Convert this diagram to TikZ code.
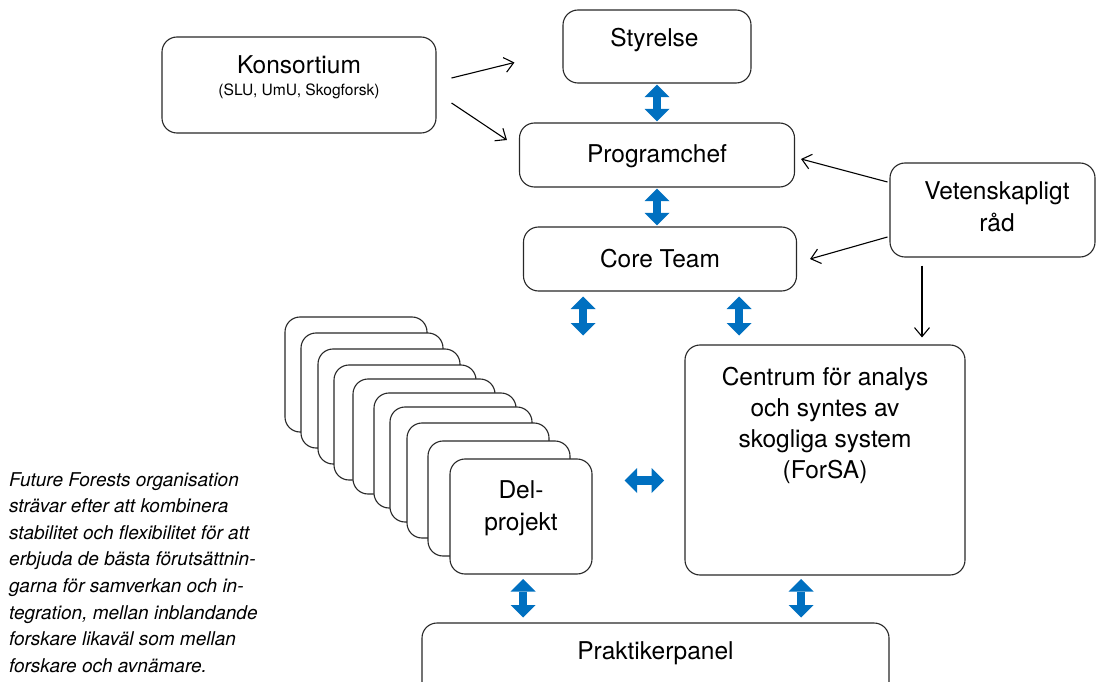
\documentclass[tikz,border=0pt]{standalone}
\usepackage{fontspec}
\setmainfont{TeX Gyre Heros}
\usetikzlibrary{arrows.meta}
\definecolor{arrblue}{RGB}{0,112,192}
\definecolor{boxline}{RGB}{40,40,40}
\newcommand\lblfont{\fontsize{24.5}{31}\selectfont}
\newcommand\smlfont{\fontsize{15.6}{18}\selectfont}
\newcommand\capfont{\fontsize{19}{26.6}\selectfont\itshape}
\begin{document}
\begin{tikzpicture}[x=1pt,y=-1pt,
  box/.style={draw=boxline, line width=1.1pt, rounded corners=15pt, fill=white, inner sep=0pt},
  lbl/.style={font=\lblfont, inner sep=0pt, anchor=base},
  sml/.style={font=\smlfont, inner sep=0pt, anchor=base},
  captxt/.style={font=\capfont, inner sep=0pt, anchor=base west},
  thinarrow/.style={draw=black, line width=1.1pt, -{Straight Barb[length=9pt,width=15pt]}},
  bluearrow/.style={draw=arrblue, line width=8.5pt,
    {Triangle[length=12.5pt 0 0,width=25pt 0 0,line width=0pt]}-{Triangle[length=12.5pt 0 0,width=25pt 0 0,line width=0pt]}}]
\useasboundingbox (0,0) rectangle (1096,682);
\clip (0,0) rectangle (1096,682);

% --- boxes ---
\node[box, minimum width=188pt, minimum height=73pt] (sty) at (657,46.5) {};
\node[lbl] (stytxt) at (654.5,47) {Styrelse};

\node[box, minimum width=274pt, minimum height=96pt] (kons) at (299,85) {};
\node[lbl] (kons1) at (299,74) {Konsortium};
\node[sml] (kons2) at (299,96) {(SLU, UmU, Skogforsk)};

\node[box, minimum width=275pt, minimum height=64pt] (prog) at (657,155) {};
\node[lbl] (progtxt) at (657,163) {Programchef};

\node[box, minimum width=273pt, minimum height=64pt] (core) at (660,259) {};
\node[lbl] (coretxt) at (660,267) {Core Team};

\node[box, minimum width=205pt, minimum height=94pt] (vet) at (992.5,210) {};
\node[lbl] (vet1) at (997,200) {Vetenskapligt};
\node[lbl] (vet2) at (997,232) {råd};

\node[box, minimum width=280pt, minimum height=230pt] (cen) at (825,460) {};
\node[lbl] (cen1) at (825,385) {Centrum för analys};
\node[lbl] (cen2) at (825,416) {och syntes av};
\node[lbl] (cen3) at (825,447) {skogliga system};
\node[lbl] (cen4) at (825,478) {(ForSA)};

\node[box, minimum width=467pt, minimum height=80pt] (prak) at (655.5,663) {};
\node[lbl] (praktxt) at (655.5,659) {Praktikerpanel};

% --- Delprojekt stack ---
\foreach \i/\l/\t in {1/285/317, 2/301/333, 3/318/349, 4/334/365, 5/353/379,
                      6/374/393, 7/390/407, 8/407/423, 9/428/441, 10/450/459}{
  \node[box, minimum width=142pt, minimum height=115pt] (del\i) at (\l+71,\t+57.5) {};
}
\node[lbl] (del1txt) at (521,498) {Del-};
\node[lbl] (del2txt) at (521,530) {projekt};

% --- caption ---
\node[captxt] (c1) at (9,486) {Future Forests organisation};
\node[captxt] (c2) at (9,512.6) {strävar efter att kombinera};
\node[captxt] (c3) at (9,539.2) {stabilitet och flexibilitet för att};
\node[captxt] (c4) at (9,565.8) {erbjuda de bästa förutsättnin-};
\node[captxt] (c5) at (9,592.4) {garna för samverkan och in-};
\node[captxt] (c6) at (9,619) {tegration, mellan inblandande};
\node[captxt] (c7) at (9,645.6) {forskare likaväl som mellan};
\node[captxt] (c8) at (9,672.2) {forskare och avnämare.};

% --- thin arrows ---
\draw[thinarrow] ([shift={(15,-7)}]kons.east) -- ([shift={(-48,16)}]sty.west);
\draw[thinarrow] ([shift={(15,18)}]kons.east) -- ([shift={(-12,-15)}]prog.west);
\draw[thinarrow] ([shift={(-2,-28)}]vet.west) -- ([shift={(6,4)}]prog.east);
\draw[thinarrow] ([shift={(-2,27)}]vet.west) -- ([shift={(13,0)}]core.east);
\draw[thinarrow] ([shift={(-70.5,8)}]vet.south) -- ([shift={(97,-7)}]cen.north);

% --- blue double arrows ---
\coordinate (ca1) at (583,296.5);
\coordinate (ca2) at (583,335.5);
\coordinate (cb1) at (739,296.5);
\coordinate (cb2) at (739,335.5);
\coordinate (h1) at (624.5,480.5);
\coordinate (h2) at (664,480.5);
\coordinate (da1) at (523,579);
\coordinate (da2) at (523,617.5);
\coordinate (db1) at (801,579);
\coordinate (db2) at (801,617.5);
\draw[bluearrow] ([yshift=-1pt]sty.south) -- ([yshift=1pt]prog.north);
\draw[bluearrow] ([yshift=-1pt]prog.south) -- ([yshift=1pt]prog.south |- core.north);
\draw[bluearrow] (ca1) -- (ca2);
\draw[bluearrow] (cb1) -- (cb2);
\draw[bluearrow] (h1) -- (h2);
\draw[bluearrow] (da1) -- (da2);
\draw[bluearrow] (db1) -- (db2);
\end{tikzpicture}
\end{document}
